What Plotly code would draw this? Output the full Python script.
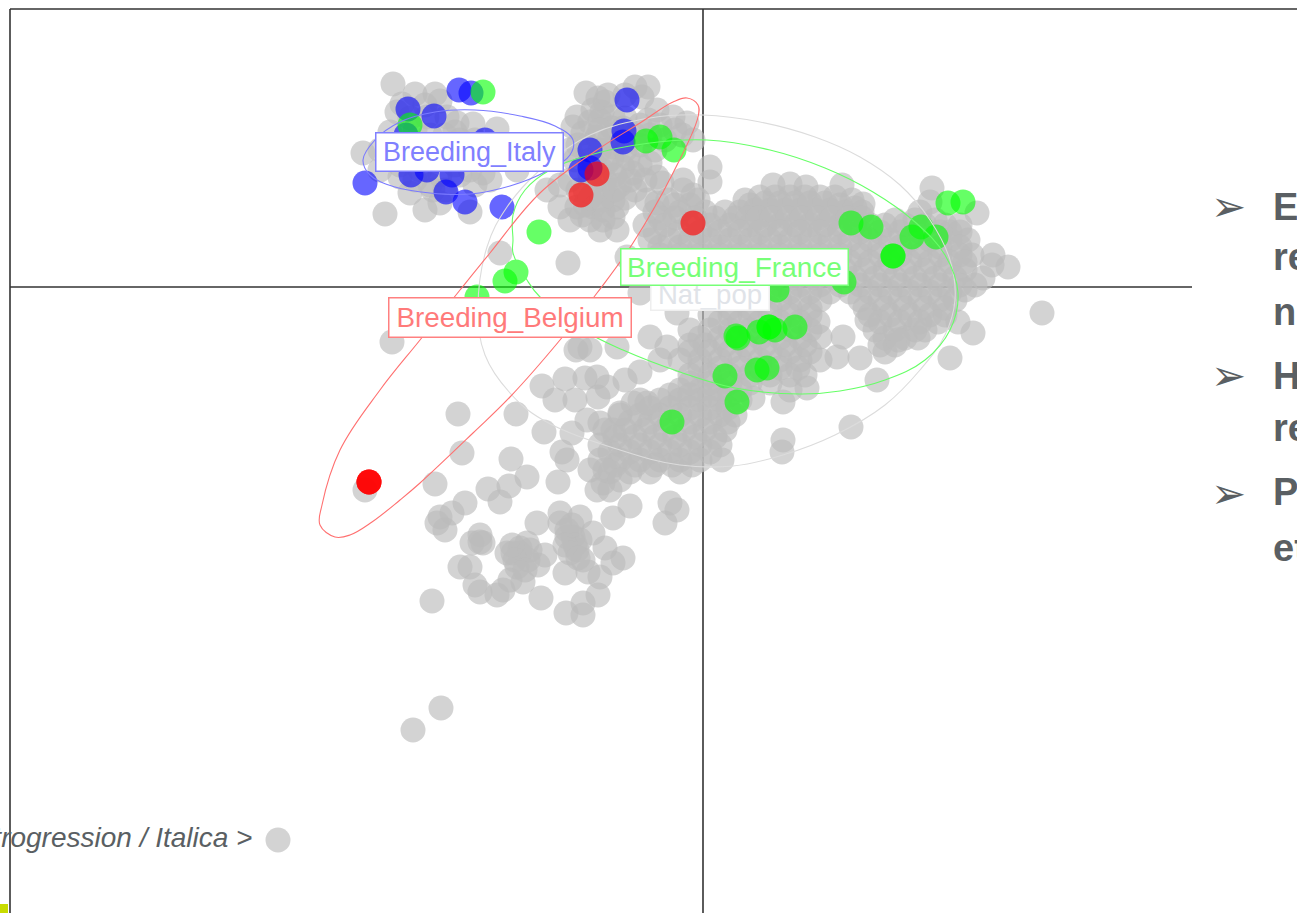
import plotly.graph_objects as go

# Values, in the picture's own scale
nat_pop_italy = [(393,84),(415,94),(435,94),(402,104),(440,101),(397,112),(427,117),(447,117),(457,123),(473,124),(497,129),(363,153),(390,132),(385,214),(410,193),(425,210),(440,203),(470,212),(433,190),(400,177),(380,170),(517,170),(483,173),(500,157),(415,130),(430,135),(445,135),(460,140),(475,140),(395,150),(410,150),(425,150),(445,155),(465,155),(485,155),(420,170),(440,175),(460,175),(415,180),(445,190),(490,180),(410,118),(425,105),(455,132),(470,170),(435,160),(455,165),(400,165),(475,185),(380,150),(430,185)]
nat_pop_north = [(586,93),(635,87),(648,87),(642,97),(605,102),(593,110),(577,117),(573,127),(600,120),(613,117),(623,128),(657,110),(673,117),(687,123),(693,140),(583,133),(597,137),(613,147),(607,163),(623,167),(633,173),(547,190),(560,207),(570,220),(600,230),(617,230),(590,220),(613,217),(613,200),(607,193),(593,207),(617,207),(577,207),(657,177),(650,163),(662,183),(710,167),(710,182),(683,180),(647,200),(657,203),(627,257),(568,263),(500,253),(585,190),(595,190),(605,180),(590,160),(640,125),(625,150),(640,145),(655,150),(600,150),(575,160),(570,180),(635,190),(620,185),(585,205),(603,210)]
nat_pop_north_fill = [(590,122),(602,112),(612,128),(625,118),(588,145),(600,130),(610,138),(622,140),(635,135),(648,120),(660,125),(675,130),(590,175),(602,170),(615,175),(578,190),(590,198),(602,200),(615,190),(625,198),(603,220),(582,215),(630,180),(645,180),(640,165),(578,145),(570,150),(560,185),(595,165),(612,158),(628,158),(665,140),(650,135),(682,135),(598,98),(608,95),(625,95)]
nat_pop_blob_a = [(683,190),(773,185),(790,184),(806,187),(668,200),(698,200),(745,200),(760,197),(775,197),(790,197),(805,197),(820,197),(835,197),(842,185),(852,200),(863,204),(655,212),(680,212),(705,212),(725,212),(740,212),(755,210),(770,210),(785,210),(800,210),(815,210),(830,210),(845,212),(862,212),(920,212),(645,225),(665,225),(690,225),(710,225),(730,225),(750,225),(765,225),(780,225),(795,225),(810,225),(825,225),(840,225),(855,225),(870,225),(905,225),(925,225),(945,225),(960,225)]
nat_pop_blob_b = [(650,240),(670,240),(690,240),(710,240),(730,240),(750,240),(770,240),(790,240),(810,240),(830,240),(850,240),(870,240),(890,240),(910,240),(930,240),(950,240),(968,240),(660,255),(680,255),(700,255),(720,255),(740,255),(760,255),(780,255),(800,255),(820,255),(840,255),(860,255),(880,255),(900,255),(920,255),(940,255),(960,255),(972,255),(665,270),(685,270),(705,270),(725,270),(745,270),(765,270),(785,270),(805,270),(825,270),(845,270),(865,270),(885,270),(905,270),(925,270),(945,270),(965,270)]
nat_pop_blob_c = [(680,285),(700,285),(720,285),(740,285),(760,285),(780,285),(800,285),(820,285),(840,285),(860,285),(880,285),(900,285),(920,285),(940,285),(960,285),(975,285),(720,300),(740,300),(760,300),(780,300),(800,300),(820,300),(860,300),(880,300),(900,300),(920,300),(940,300),(955,300),(710,315),(730,315),(750,315),(770,315),(790,315),(810,315),(870,315),(890,315),(910,315),(930,315),(945,315),(690,330),(710,330),(730,330),(750,330),(770,330),(790,330),(810,330),(875,330),(895,330),(915,330),(925,330),(690,345),(705,345),(725,345),(745,345),(765,345),(785,345),(805,345),(880,345),(895,345)]
nat_pop_blob_fill1 = [(693,195),(750,205),(765,203),(780,203),(795,203),(810,203),(825,203),(840,205),(855,208),(690,205),(675,205),(660,218),(675,218),(695,218),(715,218),(735,218),(748,218),(758,218),(772,218),(788,218),(802,218),(818,218),(832,218),(848,218),(862,218),(915,220),(935,220),(950,232),(655,232),(680,232),(700,232),(720,232),(740,232),(760,232),(780,232),(800,232),(820,232),(840,232),(860,232),(880,232),(900,232),(920,232),(940,232),(960,232),(885,225),(895,220),(660,247),(680,247),(700,247),(720,247),(740,247),(760,247),(780,247),(800,247),(820,247),(840,247),(860,247),(880,247),(900,247),(920,247),(940,247),(960,247)]
nat_pop_blob_fill2 = [(670,262),(690,262),(710,262),(730,262),(750,262),(770,262),(790,262),(810,262),(830,262),(850,262),(870,262),(890,262),(910,262),(930,262),(950,262),(965,262),(675,278),(695,278),(715,278),(735,278),(755,278),(775,278),(795,278),(815,278),(835,278),(855,278),(875,278),(895,278),(915,278),(935,278),(955,278),(690,292),(710,292),(730,292),(750,292),(770,292),(790,292),(810,292),(830,292),(850,292),(870,292),(890,292),(910,292),(930,292),(950,292),(730,308),(750,308),(770,308),(790,308),(810,308),(865,308),(885,308),(905,308),(925,308),(945,308),(720,322),(740,322),(760,322),(780,322),(800,322),(818,322),(880,322),(900,322),(920,322),(938,322),(700,338),(720,338),(740,338),(760,338),(780,338),(800,338),(885,338),(905,338),(918,338),(885,352),(898,340)]
nat_pop_east = [(932,188),(930,202),(977,213),(993,255),(1008,267),(983,278),(992,265),(965,290),(958,322),(973,333),(950,358),(1042,313),(877,380),(851,427),(783,440),(782,452),(783,402),(753,398),(807,388),(837,357),(860,358),(843,337),(820,337),(867,320)]
nat_pop_center = [(680,360),(700,360),(720,360),(740,360),(760,360),(780,360),(800,360),(820,360),(690,375),(710,375),(730,375),(750,375),(770,375),(790,375),(805,375),(680,390),(700,390),(720,390),(740,390),(790,390),(640,400),(660,400),(680,400),(700,400),(720,400),(740,400),(620,415),(640,415),(660,415),(680,415),(700,415),(720,415),(735,415),(605,430),(625,430),(645,430),(665,430),(685,430),(705,430),(725,430),(600,445),(620,445),(640,445),(660,445),(680,445),(700,445),(720,445),(600,460),(620,460),(640,460),(660,460),(680,460),(700,460),(722,460),(610,472),(630,472),(650,472),(680,472),(640,293),(677,313),(650,337),(667,347),(580,347),(617,347),(660,360),(640,372),(625,380)]
nat_pop_center_fill = [(690,352),(710,352),(730,352),(750,352),(770,352),(790,352),(810,352),(700,368),(720,368),(740,368),(760,368),(780,368),(798,368),(690,383),(710,383),(730,383),(750,383),(770,383),(670,395),(690,395),(710,395),(730,395),(650,408),(670,408),(690,408),(710,408),(728,408),(630,422),(650,422),(670,422),(690,422),(710,422),(728,422),(615,437),(635,437),(655,437),(675,437),(695,437),(715,437),(610,452),(630,452),(650,452),(670,452),(690,452),(710,452),(615,465),(635,465),(655,465),(672,465),(692,465)]
nat_pop_south = [(458,414),(462,453),(435,484),(516,414),(544,432),(542,386),(565,379),(585,378),(597,377),(598,397),(607,387),(572,433),(587,420),(600,423),(613,430),(620,413),(633,403),(647,403),(562,452),(567,460),(558,482),(511,459),(527,477),(509,486),(488,489),(500,502),(465,503),(440,517),(452,513),(437,523),(445,530),(480,535),(480,542),(472,543),(483,543),(470,567),(460,567),(475,585),(480,592),(497,595),(503,590),(510,580),(523,582),(513,553),(527,543),(528,560),(517,567),(507,553),(520,553),(538,565),(545,555),(537,523),(560,513),(560,523),(580,517),(567,530),(573,537),(580,540),(567,537),(593,533),(577,550),(570,553),(583,560),(605,548),(565,573),(588,572),(600,577),(613,563),(623,558),(598,595),(583,603),(583,615),(566,613),(541,598),(432,601),(613,518),(630,506),(665,523),(670,503),(677,510),(597,490),(603,483),(610,490),(590,470),(605,470),(620,480),(441,708),(413,730),(392,342),(365,490),(576,350),(590,350),(555,400),(575,400),(520,548),(515,560),(530,550),(525,570),(512,545),(575,545),(565,545),(578,558),(572,525)]

blue_points = [(459,90),(471,93),(408,109),(434,116),(406,135),(485,140),(365,183),(411,175),(427,170),(452,175),(446,192),(465,202),(502,207),(627,100),(624,131),(623,142),(590,150),(581,170),(400,155),(420,160),(590,168)]
green_points = [(483,92),(410,125),(646,141),(660,137),(674,150),(539,232),(516,272),(505,281),(477,297),(851,223),(871,227),(948,203),(963,202),(921,227),(912,237),(936,237),(893,256),(893,256),(844,282),(777,290),(736,336),(738,338),(759,332),(769,327),(775,330),(769,327),(795,327),(725,376),(757,370),(767,368),(737,402),(672,422)]
red_points = [(597,174),(581,195),(693,223),(369,482),(369,482),(369,482)]
extra_gray_point = [(278,840)]

italy_outline = [(363,160),(375,140),(400,122),(435,112),(475,110),(520,116),(555,126),(573,140),(570,155),(545,172),(510,186),(470,194),(430,193),(395,187),(370,175),(363,160)]
france_outline = [(513,240),(513,215),(525,190),(550,170),(590,155),(650,143),(707,140),(770,150),(825,168),(873,192),(915,222),(945,255),(958,293),(950,330),(925,360),(885,380),(840,391),(800,394),(735,388),(680,372),(623,350),(583,330),(540,297),(527,280),(513,253),(513,240)]
natpop_outline = [(478,310),(487,247),(507,207),(540,170),(590,135),(650,118),(703,115),(760,122),(815,137),(860,157),(900,185),(930,220),(950,260),(955,300),(945,335),(920,370),(885,405),(835,435),(783,455),(733,466),(680,465),(620,450),(543,420),(510,393),(485,355),(478,310)]
belgium_outline = [(687,98),(673,102),(640,123),(597,150),(540,193),(490,253),(460,290),(420,340),(380,390),(340,450),(322,505),(320,525),(335,537),(350,535),(372,522),(400,500),(420,483),(473,433),(510,397),(560,340),(597,293),(633,243),(673,173),(698,117),(698,105),(687,98)]

group_labels = ["Breeding_Italy", "Breeding_Belgium", "Breeding_France", "Nat_pop"]
label_font_sizes = [27, 27.8, 28, 27.5]
bullet_lines = ["E", "re", "n", "H", "re", "P", "et"]
legend_text = "Introgression / Italica >"

AX_H = ([10,1297],[9,9])
AX_CH = ([10,1192],[287,287])
AX_V1 = ([703,703],[9,913])
AX_V2 = ([10,10],[9,913])

def xs(pts): return [p[0] for p in pts]
def ys(pts): return [p[1] for p in pts]

fig = go.Figure()
for lx, ly in (AX_H, AX_CH, AX_V1, AX_V2):
    fig.add_trace(go.Scatter(x=lx, y=ly, mode="lines", line=dict(color="#333333", width=1.6), hoverinfo="skip"))

gray_all = (nat_pop_italy + nat_pop_north + nat_pop_north_fill + nat_pop_blob_a + nat_pop_blob_b + nat_pop_blob_c
            + nat_pop_blob_fill1 + nat_pop_blob_fill2 + nat_pop_east + nat_pop_center + nat_pop_center_fill
            + nat_pop_south + extra_gray_point)
def pts(p, color, name):
    fig.add_trace(go.Scatter(x=xs(p), y=ys(p), mode="markers", name=name,
                             marker=dict(size=25, color=color, line=dict(width=0))))
pts(gray_all, "rgba(187,187,187,0.65)", "Nat_pop")
pts(blue_points, "rgba(0,0,255,0.6)", "Breeding_Italy")
pts(green_points, "rgba(0,255,0,0.6)", "Breeding_France")
pts(red_points, "rgba(255,0,0,0.65)", "Breeding_Belgium")

for o, c in ((natpop_outline, "#dcdcdc"), (italy_outline, "#7a7aff"), (france_outline, "#66ff66"), (belgium_outline, "#ff7070")):
    fig.add_trace(go.Scatter(x=xs(o), y=ys(o), mode="lines", line=dict(color=c, width=1.1, shape="spline", smoothing=1.1), hoverinfo="skip"))

LBL = "Liberation Sans"
anns = []
def lab(i, cx, cy, w, h, col, border):
    anns.append(dict(x=cx, y=cy, xref="x", yref="y", text=group_labels[i], showarrow=False, width=w, height=h,
                     font=dict(family=LBL, size=label_font_sizes[i], color=col), bgcolor="white", bordercolor=border,
                     borderwidth=1.5, borderpad=0, align="center", valign="middle"))
lab(3, 710, 294, 117, 30, "#e0e3e8", "#eeeeee")
lab(0, 469, 152, 186, 37, "#8080ff", "#8080ff")
lab(1, 510, 317, 241, 38, "#ff7a7a", "#ff8080")
lab(2, 734, 267, 226, 35, "#77ff77", "#77ff77")

text_col = "#5a5f63"
bullet_y = [(207,0),(257,1),(312,2),(376,3),(428,4),(492,5),(548,6)]
for y, i in bullet_y:
    anns.append(dict(x=1271, y=y, xref="x", yref="y", text=f"<b>{bullet_lines[i]}</b>", showarrow=False, xanchor="left",
                     yanchor="middle", font=dict(family=LBL, size=38, color=text_col), align="left"))
for y in (206, 375, 493):
    anns.append(dict(x=1228, y=y, xref="x", yref="y", text="➢", showarrow=False,
                     font=dict(family="DejaVu Sans", size=42, color=text_col)))
anns.append(dict(x=254, y=837, xref="x", yref="y", text=f"<i>{legend_text}</i>", showarrow=False, xanchor="right",
                 font=dict(family=LBL, size=28, color=text_col)))

fig.update_layout(
    width=1297, height=913, margin=dict(l=0, r=0, t=0, b=0), showlegend=False,
    paper_bgcolor="white", plot_bgcolor="white", annotations=anns,
    xaxis=dict(range=[0,1297], visible=False, fixedrange=True),
    yaxis=dict(range=[913,0], visible=False, fixedrange=True),
    shapes=[dict(type="rect", x0=0, x1=8, y0=904, y1=913, xref="x", yref="y", fillcolor="#c8dc00", line=dict(width=0))],
)
fig.write_html("out.html", config={"displayModeBar": False}, post_script="document.body.style.margin='0';")
